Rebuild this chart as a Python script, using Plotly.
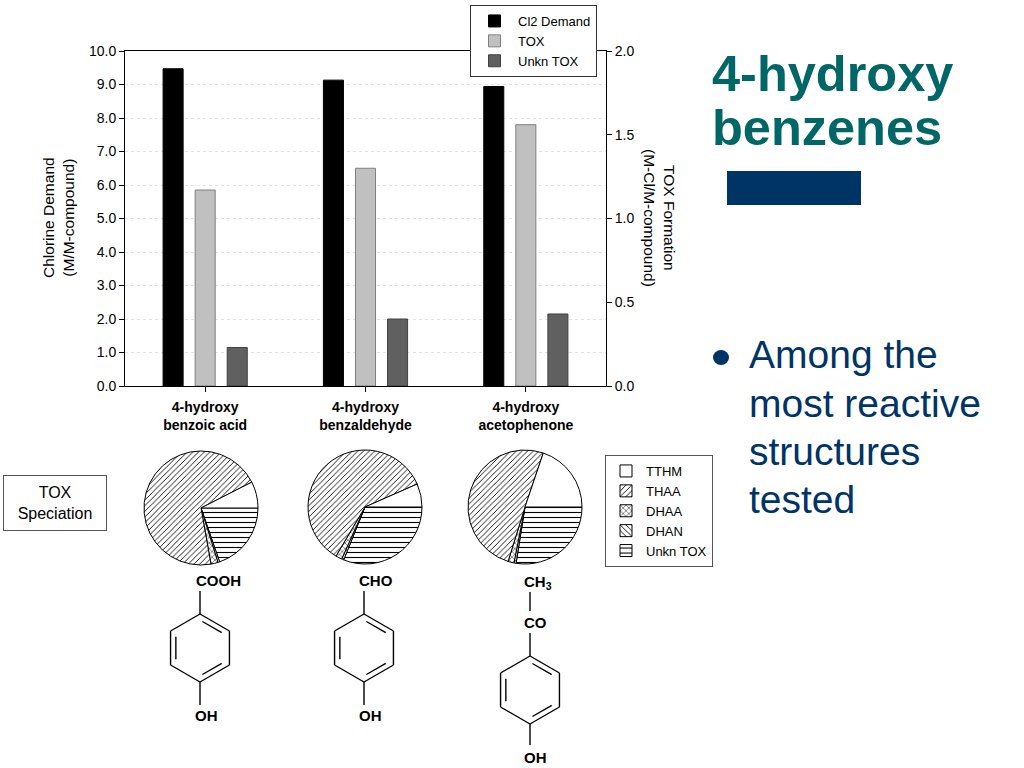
import math
import plotly.graph_objects as go

# bar data: chlorine demand on the left axis, TOX on the right axis
compounds = ["4-hydroxy<br>benzoic acid", "4-hydroxy<br>benzaldehyde", "4-hydroxy<br>acetophenone"]
cl2_demand = [9.47, 9.13, 8.94]
tox = [1.17, 1.30, 1.56]
unkn_tox = [0.23, 0.40, 0.43]

# TOX speciation (percent of TOX) for each compound
species = ["TTHM", "THAA", "DHAA", "DHAN", "Unkn TOX"]
spec_benzoic = [7.5, 70.3, 2.0, 0.5, 19.7]
spec_benzaldehyde = [6.6, 59.9, 1.8, 0.6, 31.1]
spec_acetophenone = [19.8, 50.4, 1.7, 0.6, 27.5]

bullet_lines = ["Among the", "most reactive", "structures", "tested"]

W, H = 1024, 768
FONT = "Liberation Sans"
NAVY = "#003366"
TEAL = "#006666"


def px(x):
    return x / W


def py(y):
    return 1 - y / H


fig = go.Figure()

# bars, placed by hand inside each category slot
bar_w = 0.125
fig.add_trace(go.Bar(
    x=compounds, y=cl2_demand, name="Cl2 Demand",
    marker=dict(color="black", line=dict(color="black", width=1)),
    width=bar_w, offset=-0.2625, yaxis="y", legend="legend",
))
fig.add_trace(go.Bar(
    x=compounds, y=tox, name="TOX",
    marker=dict(color="#c0c0c0", line=dict(color="#7f7f7f", width=1)),
    width=bar_w, offset=-0.0625, yaxis="y2", legend="legend",
))
fig.add_trace(go.Bar(
    x=compounds, y=unkn_tox, name="Unkn TOX",
    marker=dict(color="#606060", line=dict(color="#404040", width=1)),
    width=bar_w, offset=0.1375, yaxis="y2", legend="legend",
))

# speciation pies: drawn clockwise from 3 o'clock starting with Unkn TOX
patterns = ["", "/", "x", "\\", "-"]
sizes = [4, 4, 4, 4, 5]
pie_sets = [spec_benzoic, spec_benzaldehyde, spec_acetophenone]
pie_centers = [(201, 508), (365, 507), (525, 507)]
pie_r = 57
for vals, (cx, cy) in zip(pie_sets, pie_centers):
    fig.add_trace(go.Pie(
        labels=species[::-1], values=vals[::-1], sort=False,
        direction="clockwise", rotation=90,
        textinfo="none", hoverinfo="label+percent",
        marker=dict(
            colors=["white"] * 5,
            line=dict(color="black", width=1),
            pattern=dict(shape=patterns[::-1], fgcolor="black", bgcolor="white",
                         size=sizes[::-1], solidity=0.22),
        ),
        domain=dict(x=[px(cx - pie_r), px(cx + pie_r)], y=[py(cy + pie_r), py(cy - pie_r)]),
        legend="legend2",
    ))

shapes = []
annotations = []


def seg(x0, y0, x1, y1, w=1.4):
    shapes.append(dict(type="line", xref="paper", yref="paper",
                       x0=px(x0), y0=py(y0), x1=px(x1), y1=py(y1),
                       line=dict(color="black", width=w)))


def ring(cx, cy, r=34):
    pts = [(cx + r * math.sin(math.radians(a)), cy - r * math.cos(math.radians(a)))
           for a in range(0, 360, 60)]
    for i in range(6):
        (x0, y0), (x1, y1) = pts[i], pts[(i + 1) % 6]
        seg(x0, y0, x1, y1)
        if i % 2 == 0:
            k = 0.82
            ax, ay = cx + (x0 - cx) * k, cy + (y0 - cy) * k
            bx, by = cx + (x1 - cx) * k, cy + (y1 - cy) * k
            seg(ax + (bx - ax) * 0.1, ay + (by - ay) * 0.1,
                ax + (bx - ax) * 0.9, ay + (by - ay) * 0.9)


def label(x, y, text, size=15, color="black", bold=True, xanchor="center", **kw):
    annotations.append(dict(
        x=px(x), y=py(y), xref="paper", yref="paper", text=text, showarrow=False,
        xanchor=xanchor, yanchor="middle",
        font=dict(family=FONT, size=size, color=color, weight="bold" if bold else "normal"),
        **kw))


# structures
ring(200, 648)
seg(200, 591, 200, 614)
seg(200, 682, 200, 705)
label(218, 580, "COOH")
label(206, 715, "OH")

ring(364, 648)
seg(364, 591, 364, 614)
seg(364, 682, 364, 705)
label(376, 580, "CHO")
label(370, 715, "OH")

ring(530, 690)
seg(530, 592, 530, 611)
seg(530, 633, 530, 656)
seg(530, 724, 530, 745)
label(538, 582, "CH<sub>3</sub>")
label(535, 622, "CO")
label(535, 757, "OH")

# axis titles
label(58, 218, "Chlorine Demand<br>(M/M-compound)", size=15.5, bold=False, textangle=-90)
label(660, 218, "TOX Formation<br>(M-Cl/M-compound)", size=15.5, bold=False, textangle=90)

# TOX speciation box
annotations.append(dict(
    x=px(55), y=py(503), xref="paper", yref="paper", showarrow=False,
    xanchor="center", yanchor="middle",
    text="TOX<br>Speciation", font=dict(family=FONT, size=16, color="black"),
    bordercolor="#555555", borderwidth=1, width=100, height=52, bgcolor="white",
))

# slide title and bullet
label(710, 74, "4-hydroxy", size=50.5, color=TEAL, xanchor="left")
label(710, 127, "benzenes", size=50.5, color=TEAL, xanchor="left")
shapes.append(dict(type="rect", xref="paper", yref="paper",
                   x0=px(727), x1=px(861), y0=py(205), y1=py(171),
                   fillcolor=NAVY, line=dict(width=0)))
shapes.append(dict(type="circle", xref="paper", yref="paper",
                   x0=px(713), x1=px(729), y0=py(365), y1=py(350),
                   fillcolor=NAVY, line=dict(width=0)))
for i, t in enumerate(bullet_lines):
    label(747, 355 + i * 48.3, t, size=39, color=NAVY, bold=False, xanchor="left")

fig.update_layout(
    width=W, height=H, autosize=False,
    margin=dict(l=0, r=0, t=0, b=0, autoexpand=False),
    paper_bgcolor="white", plot_bgcolor="white",
    font=dict(family=FONT, color="black"),
    barmode="overlay",
    xaxis=dict(
        domain=[px(125), px(606)], type="category", range=[-0.5, 2.5], automargin=False,
        showline=True, linecolor="black", linewidth=1, mirror=True,
        ticks="outside", ticklen=5, tickcolor="black", ticklabelstandoff=3,
        tickfont=dict(family=FONT, size=14, color="black", weight="bold"),
        showgrid=False,
    ),
    yaxis=dict(
        domain=[py(386), py(51)], range=[0, 10], dtick=1, tickformat=".1f", automargin=False,
        showline=True, linecolor="black", linewidth=1,
        ticks="outside", ticklen=5, tickcolor="black",
        tickfont=dict(family=FONT, size=14, color="black"),
        showgrid=True, gridcolor="#e2e2e2", griddash="dot", zeroline=False,
    ),
    yaxis2=dict(
        overlaying="y", side="right", anchor="x", range=[0, 2], dtick=0.5, tickformat=".1f",
        automargin=False,
        showline=True, linecolor="black", linewidth=1,
        ticks="outside", ticklen=5, tickcolor="black",
        tickfont=dict(family=FONT, size=14, color="black"),
        showgrid=False, zeroline=False,
    ),
    legend=dict(
        x=px(470), y=py(5), xanchor="left", yanchor="top", itemwidth=37,
        bordercolor="#333333", borderwidth=1, bgcolor="white",
        font=dict(family=FONT, size=13, color="black"), tracegroupgap=0,
    ),
    legend2=dict(
        x=px(605), y=py(455), xanchor="left", yanchor="top",
        bordercolor="#555555", borderwidth=1, bgcolor="white", traceorder="reversed",
        font=dict(family=FONT, size=13, color="black"),
    ),
    shapes=shapes,
    annotations=annotations,
)

fig.write_html("out.html", config={"displayModeBar": False},
               post_script="document.body.style.margin = '0';")
